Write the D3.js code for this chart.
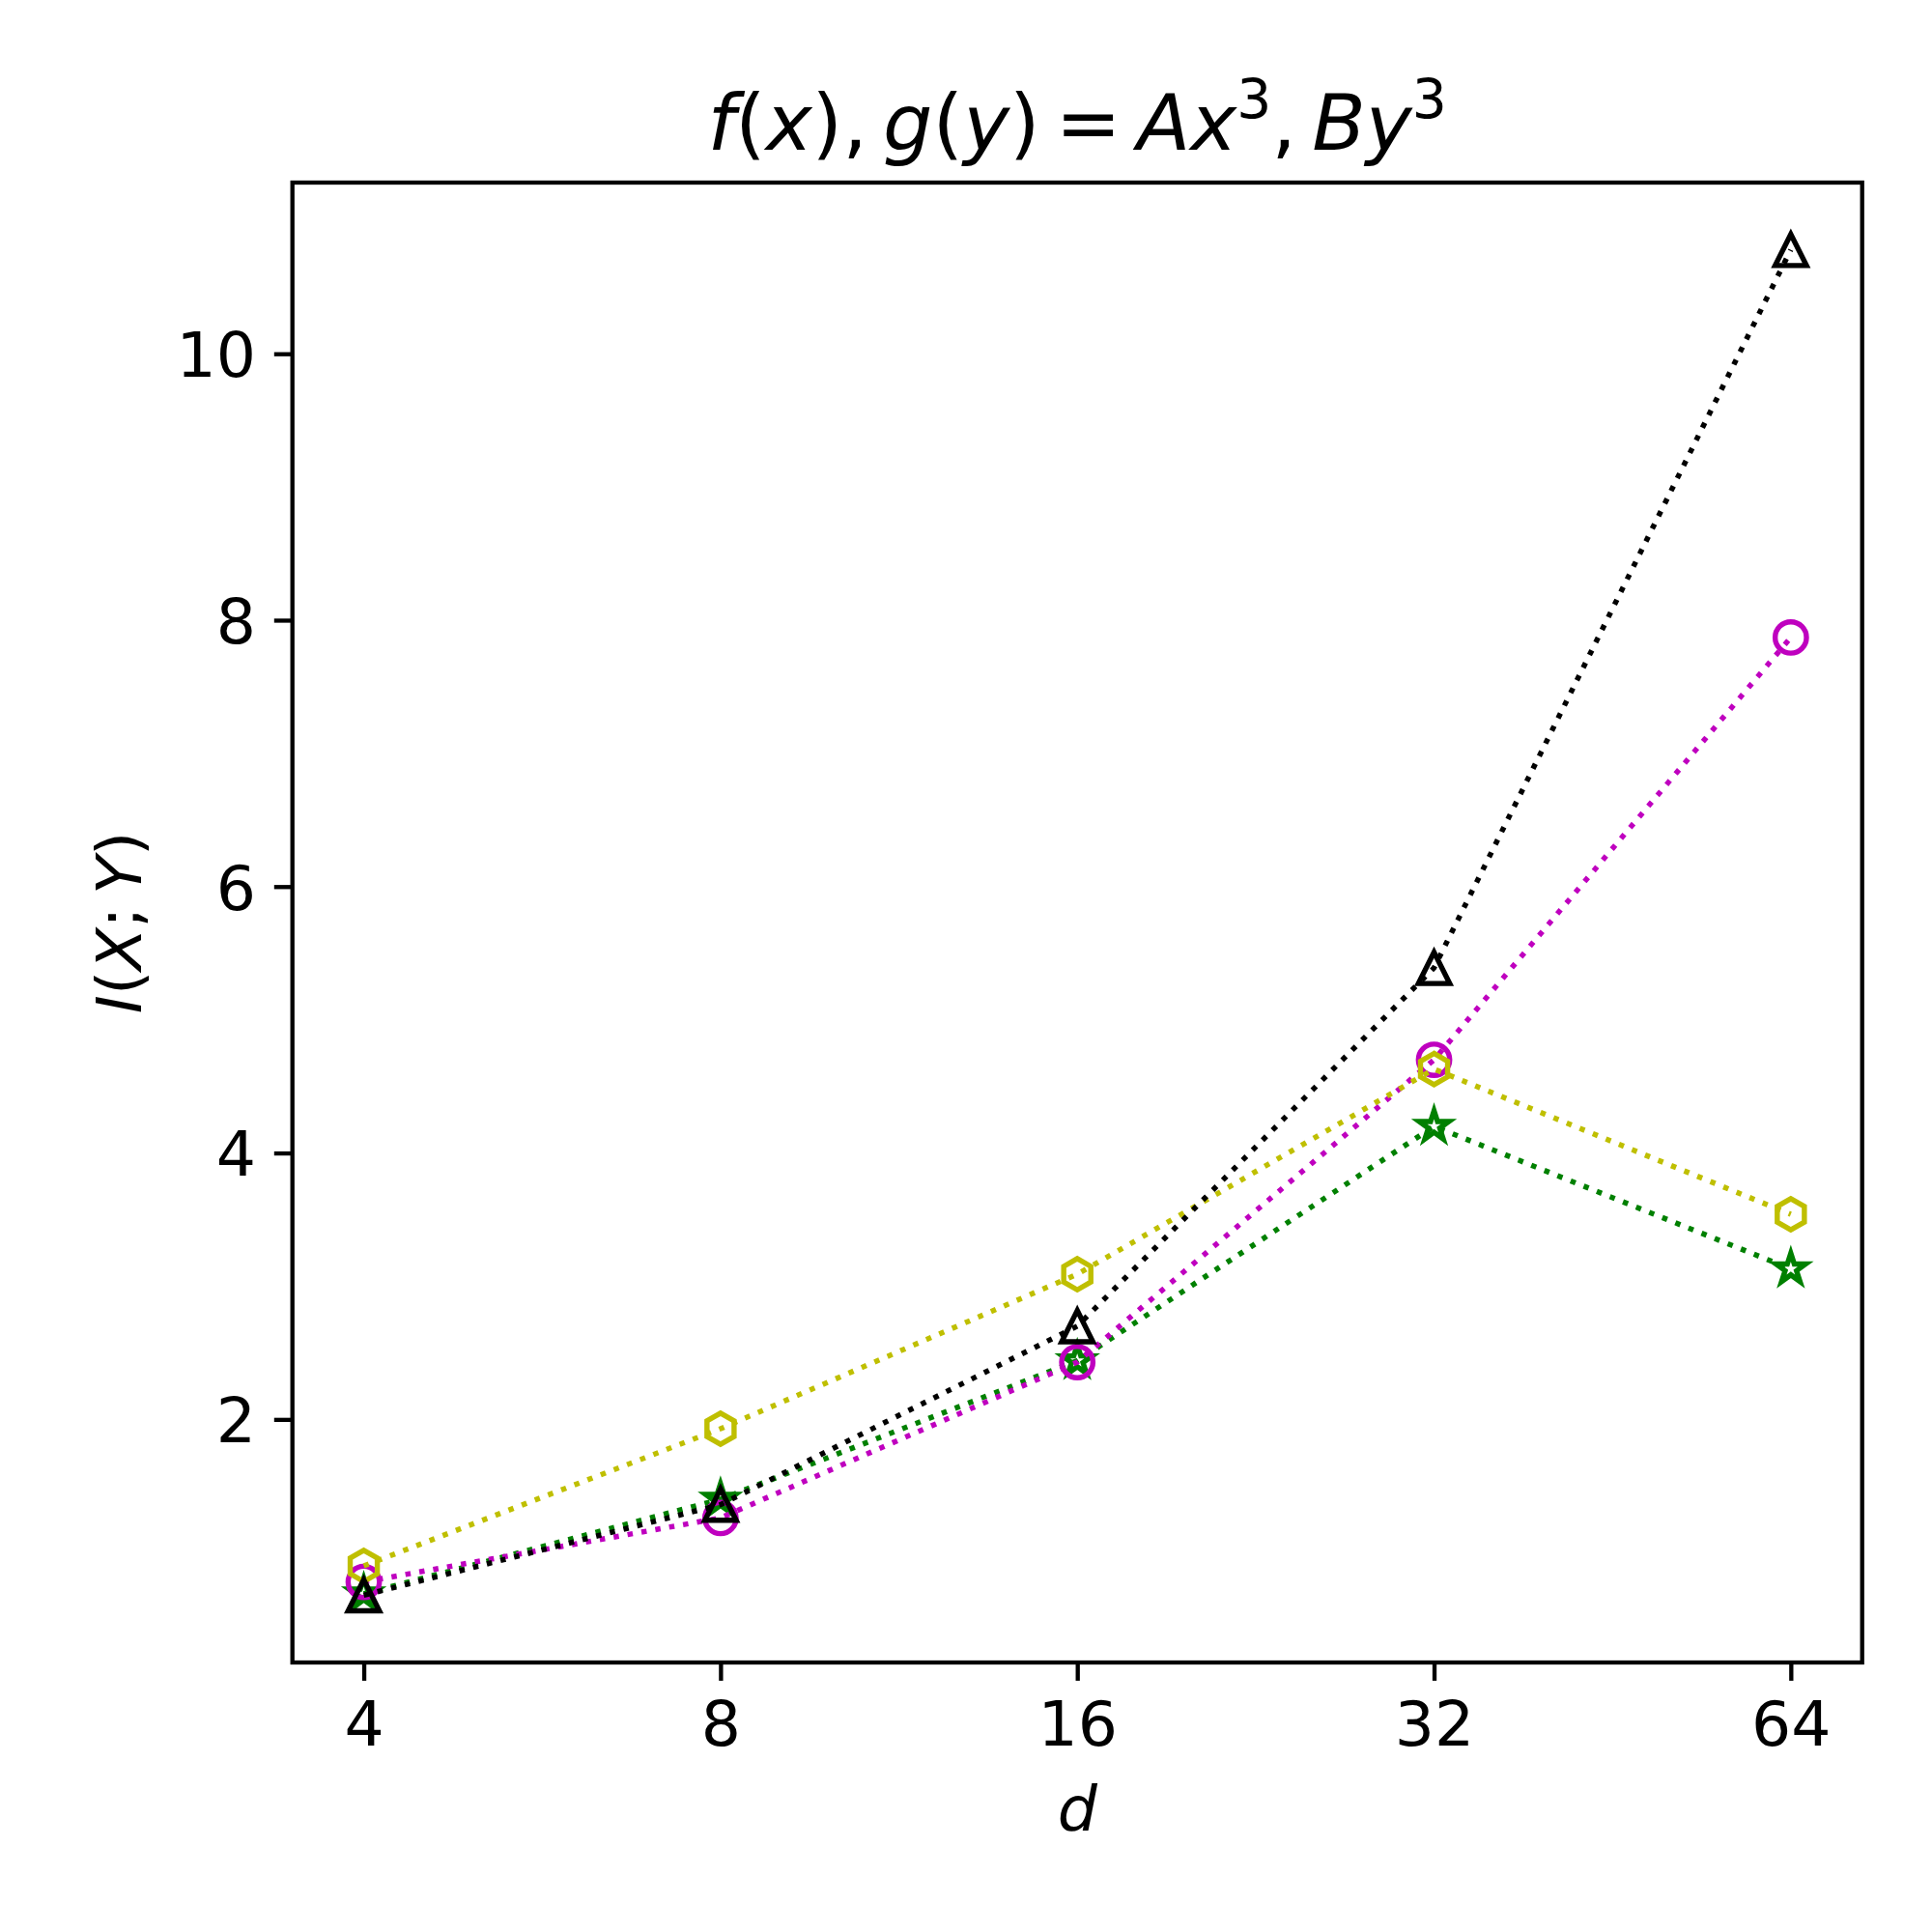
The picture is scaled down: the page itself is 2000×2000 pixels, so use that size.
<!DOCTYPE html>
<meta charset="utf-8">
<style>
    body { margin: 0; background: #fff; }
    text { font-family: "DejaVu Sans", sans-serif; fill: #000; }
    .it { font-style: italic; }
</style>
<svg width="2000" height="2000"></svg>
<script src="https://d3js.org/d3.v7.min.js"></script>
<script>

    // values
    var dims = [4, 8, 16, 32, 64];
    var valsBlack = [0.68, 1.36, 2.70, 5.39, 10.78];
    var valsMagenta = [0.78, 1.26, 2.43, 4.70, 7.87];
    var valsYellow = [0.90, 1.93, 3.09, 4.63, 3.54];
    var valsGreen = [0.69, 1.40, 2.44, 4.20, 3.13];
    var yTicks = [2, 4, 6, 8, 10];

    var svg = d3.select("svg");

    var pt = 5.4; // px per point
    var fs = 12 * pt, titleFs = 15 * pt;
    var mLeft = 302.7, mRight = 1927.7, mTop = 189, mBottom = 1721;

    // matplotlib style 5% margins
    var lo = Math.log2(dims[0]), hi = Math.log2(dims[dims.length - 1]);
    var mx = (hi - lo) * 0.05;
    var x = d3.scaleLog().base(2)
        .domain([Math.pow(2, lo - mx), Math.pow(2, hi + mx)])
        .range([mLeft, mRight]);

    var all = valsBlack.concat(valsMagenta, valsYellow, valsGreen);
    var ymin = d3.min(all), ymax = d3.max(all), my = (ymax - ymin) * 0.05;
    var y = d3.scaleLinear()
        .domain([ymin - my, ymax + my])
        .range([mBottom, mTop]);

    var ms = 6 * pt, r = ms / 2;

    function starPath(rad) {
        var p = [];
        for (var i = 0; i < 10; i++) {
            var a = Math.PI / 2 + i * Math.PI / 5;
            var rr = (i % 2 === 0) ? rad : rad * 0.381966;
            p.push([rr * Math.cos(a), -rr * Math.sin(a)]);
        }
        return "M" + p.map(function (d) { return d.join(","); }).join("L") + "Z";
    }
    function hexPath(rad) {
        var p = [];
        for (var i = 0; i < 6; i++) {
            var a = Math.PI / 2 + i * Math.PI / 3;
            p.push([rad * Math.cos(a), -rad * Math.sin(a)]);
        }
        return "M" + p.map(function (d) { return d.join(","); }).join("L") + "Z";
    }
    function triPath(rad) {
        return "M0," + (-rad) + "L" + (-rad) + "," + rad + "L" + rad + "," + rad + "Z";
    }
    function circPath(rad) {
        return "M" + rad + ",0A" + rad + "," + rad + " 0 1,1 " + (-rad) + ",0A" + rad + "," + rad + " 0 1,1 " + rad + ",0Z";
    }

    var series = [
        {vals: valsGreen, color: "#008000", marker: starPath(r)},
        {vals: valsMagenta, color: "#bf00bf", marker: circPath(r)},
        {vals: valsYellow, color: "#bfbf00", marker: hexPath(r)},
        {vals: valsBlack, color: "#000000", marker: triPath(r)}
    ];

    var line = d3.line()
        .x(function (d) { return x(d[0]); })
        .y(function (d) { return y(d[1]); });

    var plot = svg.append("g");

    series.forEach(function (s) {
        var pts = dims.map(function (d, i) { return [d, s.vals[i]]; });
        var g = plot.append("g");
        g.append("path")
            .attr("d", line(pts))
            .attr("fill", "none")
            .attr("stroke", s.color)
            .attr("stroke-width", 5.5)
            .attr("stroke-dasharray", "5.5 9.1");
        g.selectAll("path.mk")
            .data(pts)
            .enter().append("path")
            .attr("class", "mk")
            .attr("d", s.marker)
            .attr("transform", function (d) { return "translate(" + x(d[0]) + "," + y(d[1]) + ")"; })
            .attr("fill", "none")
            .attr("stroke", s.color)
            .attr("stroke-width", pt)
            .attr("stroke-linejoin", "miter");
    });

    // axes
    var xAxis = d3.axisBottom(x)
        .tickValues(dims)
        .tickFormat(d3.format("d"))
        .tickSize(3.5 * pt)
        .tickPadding(3.5 * pt);
    var yAxis = d3.axisLeft(y)
        .tickValues(yTicks)
        .tickFormat(d3.format("d"))
        .tickSize(3.5 * pt)
        .tickPadding(3.5 * pt);

    var gx = svg.append("g")
        .attr("transform", "translate(0," + mBottom + ")")
        .call(xAxis);
    var gy = svg.append("g")
        .attr("transform", "translate(" + mLeft + ",0)")
        .call(yAxis);

    [gx, gy].forEach(function (g) {
        g.select(".domain").remove();
        g.selectAll(".tick line").attr("stroke", "#000").attr("stroke-width", 0.8 * pt);
        g.selectAll(".tick text")
            .attr("font-family", "DejaVu Sans")
            .attr("font-size", fs)
            .attr("fill", "#000");
    });
    gx.selectAll(".tick text").attr("dy", "0.75em");
    gy.selectAll(".tick text").attr("dy", "0.36em");

    svg.append("rect")
        .attr("x", mLeft).attr("y", mTop)
        .attr("width", mRight - mLeft).attr("height", mBottom - mTop)
        .attr("fill", "none")
        .attr("stroke", "#000")
        .attr("stroke-width", 0.8 * pt);

    // labels
    svg.append("text")
        .attr("class", "it")
        .attr("x", (mLeft + mRight) / 2)
        .attr("y", 1895)
        .attr("text-anchor", "middle")
        .attr("font-size", fs)
        .text("d");

    var yl = svg.append("text")
        .attr("transform", "translate(146," + ((mTop + mBottom) / 2) + ") rotate(-90)")
        .attr("text-anchor", "middle")
        .attr("font-size", fs);
    [["I", 1], ["(", 0], ["X", 1], [";\u2009", 0], ["Y", 1], [")", 0]].forEach(function (p) {
        yl.append("tspan").attr("class", p[1] ? "it" : null).text(p[0]);
    });

    var title = svg.append("text")
        .attr("x", (mLeft + mRight) / 2)
        .attr("y", 155)
        .attr("text-anchor", "middle")
        .attr("font-size", titleFs);
    var parts = [["f", 1], ["(", 0], ["x", 1], ["),\u2009", 0], ["g", 1], ["(", 0], ["y", 1], [")\u2009=\u2009", 0],
        ["A", 1], ["x", 1], ["3", 2], [",\u2009", 0], ["B", 1], ["y", 1], ["3", 2]];
    var raised = false, shift = 0.4 * titleFs;
    parts.forEach(function (p) {
        var t = title.append("tspan").text(p[0]);
        if (p[1] === 1) t.attr("class", "it");
        if (p[1] === 2) {
            t.attr("font-size", 0.7 * titleFs).attr("dy", -shift);
            raised = true;
        } else if (raised) {
            t.attr("dy", shift);
            raised = false;
        }
    });

</script>
